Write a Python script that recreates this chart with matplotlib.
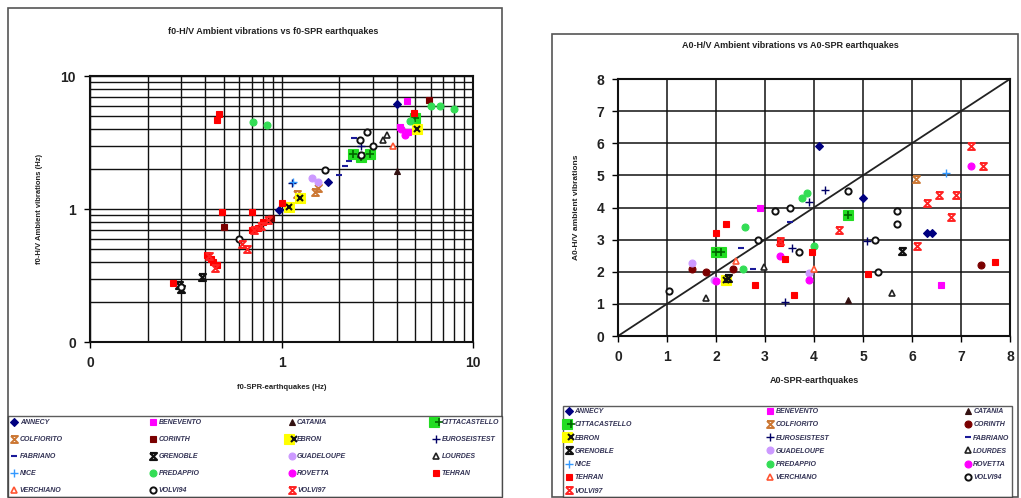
import matplotlib
matplotlib.use("Agg")
import matplotlib.pyplot as plt
from matplotlib.path import Path
from matplotlib.patches import Rectangle
from matplotlib.ticker import FixedLocator, FixedFormatter, LogLocator, NullFormatter
from matplotlib.legend_handler import HandlerTuple

plt.rcParams['font.family'] = ['Liberation Sans', 'DejaVu Sans']

# ---------------- data ----------------
sites = ["ANNECY", "BENEVENTO", "CATANIA", "CITTACASTELLO", "COLFIORITO", "CORINTH",
         "EBRON", "EUROSEISTEST", "FABRIANO", "GRENOBLE", "GUADELOUPE", "LOURDES",
         "NICE", "PREDAPPIO", "ROVETTA", "TEHRAN", "VERCHIANO", "VOLVI94", "VOLVI97"]

# f0 (Hz): SPR earthquakes (x) vs H/V ambient vibrations (y)
f0_x = {
    "ANNECY": [4.0, 1.75, 0.97],
    "BENEVENTO": [4.5, 4.15, 4.55],
    "CATANIA": [4.0],
    "CITTACASTELLO": [2.35, 2.6, 2.9, 5.0],
    "COLFIORITO": [1.2, 1.5, 1.55],
    "CORINTH": [0.5, 0.88, 5.9],
    "EBRON": [1.1, 5.1, 1.25],
    "EUROSEISTEST": [1.13, 2.6],
    "FABRIANO": [2.0, 2.15, 2.25, 2.4],
    "GRENOBLE": [0.29, 0.385, 0.3],
    "GUADELOUPE": [1.45, 1.55],
    "LOURDES": [3.55, 3.4],
    "NICE": [1.15],
    "PREDAPPIO": [0.71, 0.84, 6.0, 6.7, 8.0, 4.7],
    "ROVETTA": [4.2, 4.4],
    "TEHRAN": [0.27, 0.46, 0.47, 0.49, 0.70, 0.41, 0.44, 0.46, 0.43, 0.7, 0.75, 0.8, 4.9, 1.0],
    "VERCHIANO": [3.8],
    "VOLVI94": [0.6, 1.69, 2.57, 2.8, 3.0, 0.3, 2.6],
    "VOLVI97": [0.42, 0.45, 0.66, 0.72, 0.78, 0.85, 0.62],
}
f0_y = {
    "ANNECY": [6.2, 1.6, 0.98],
    "BENEVENTO": [6.5, 4.1, 3.8],
    "CATANIA": [1.93],
    "CITTACASTELLO": [2.6, 2.45, 2.6, 4.8],
    "COLFIORITO": [1.3, 1.35, 1.45],
    "CORINTH": [0.73, 0.85, 6.6],
    "EBRON": [1.04, 4.0, 1.2],
    "EUROSEISTEST": [1.57, 3.0],
    "FABRIANO": [1.8, 2.1, 2.3, 3.4],
    "GRENOBLE": [0.27, 0.31, 0.25],
    "GUADELOUPE": [1.7, 1.6],
    "LOURDES": [3.6, 3.3],
    "NICE": [1.6],
    "PREDAPPIO": [4.5, 4.3, 6.0, 6.0, 5.6, 4.6],
    "ROVETTA": [4.0, 3.6],
    "TEHRAN": [0.28, 4.7, 5.2, 0.95, 0.95, 0.45, 0.40, 0.38, 0.42, 0.7, 0.72, 0.8, 5.3, 1.1],
    "VERCHIANO": [3.0],
    "VOLVI94": [0.6, 1.97, 3.3, 3.8, 3.0, 0.26, 2.55],
    "VOLVI97": [0.44, 0.36, 0.5, 0.7, 0.75, 0.82, 0.55],
}

# A0: SPR earthquakes (x) vs H/V ambient vibrations (y)
a0_x = {
    "ANNECY": [4.1, 5.0, 6.3, 6.4],
    "BENEVENTO": [2.9, 6.6],
    "CATANIA": [4.7],
    "CITTACASTELLO": [4.7, 2.0, 2.1],
    "COLFIORITO": [6.08],
    "CORINTH": [7.4, 1.5, 1.8, 2.35],
    "EBRON": [2.2],
    "EUROSEISTEST": [4.22, 3.9, 5.08, 3.4, 3.55],
    "FABRIANO": [3.5, 2.5, 2.76],
    "GRENOBLE": [5.8, 2.25],
    "GUADELOUPE": [1.5, 1.95, 3.9],
    "LOURDES": [5.6, 1.8, 2.98],
    "NICE": [6.7],
    "PREDAPPIO": [3.75, 3.85, 2.6, 4.0, 2.55],
    "ROVETTA": [7.2, 3.3, 2.0, 3.9],
    "TEHRAN": [7.7, 5.1, 3.95, 3.6, 2.8, 2.0, 2.2, 3.4, 3.3],
    "VERCHIANO": [2.4, 4.0],
    "VOLVI94": [4.7, 3.5, 3.2, 5.7, 5.7, 5.3, 2.85, 1.05, 3.7, 5.25],
    "VOLVI97": [7.2, 7.45, 6.55, 6.9, 6.3, 6.8, 4.5, 6.1, 3.3],
}
a0_y = {
    "ANNECY": [5.92, 4.3, 3.2, 3.2],
    "BENEVENTO": [4.0, 1.6],
    "CATANIA": [1.12],
    "CITTACASTELLO": [3.77, 2.6, 2.6],
    "COLFIORITO": [4.88],
    "CORINTH": [2.2, 2.1, 2.0, 2.1],
    "EBRON": [1.75],
    "EUROSEISTEST": [4.53, 4.18, 2.95, 1.07, 2.75],
    "FABRIANO": [3.56, 2.73, 2.08],
    "GRENOBLE": [2.65, 1.8],
    "GUADELOUPE": [2.28, 1.75, 1.95],
    "LOURDES": [1.35, 1.17, 2.15],
    "NICE": [5.07],
    "PREDAPPIO": [4.3, 4.45, 3.4, 2.8, 2.1],
    "ROVETTA": [5.28, 2.5, 1.7, 1.75],
    "TEHRAN": [2.3, 1.92, 2.63, 1.28, 1.6, 3.2, 3.5, 2.4, 2.9],
    "VERCHIANO": [2.35, 2.1],
    "VOLVI94": [4.5, 4.0, 3.9, 3.9, 3.5, 2.0, 3.0, 1.4, 2.6, 3.0],
    "VOLVI97": [5.92, 5.28, 4.4, 4.4, 4.13, 3.7, 3.3, 2.8, 2.95],
}

log_ticks = [0.1, 1, 10]
log_tick_labels = ["0", "1", "10"]
lin_ticks = [0, 1, 2, 3, 4, 5, 6, 7, 8]

# ---------------- styles ----------------
hourglass = Path([(-1, 1), (1, 1), (-1, -1), (1, -1), (-1, 1)],
                 [Path.MOVETO, Path.LINETO, Path.LINETO, Path.LINETO, Path.LINETO])

def styles(chart):
    corinth_marker = 's' if chart == 'f0' else 'o'
    return {
        "ANNECY": [dict(marker='D', ms=4.5, mfc='#000080', mec='#000080', mew=0.8)],
        "BENEVENTO": [dict(marker='s', ms=5, mfc='#FF00FF', mec='#FF00FF', mew=0.8)],
        "CATANIA": [dict(marker='^', ms=5, mfc='#331111', mec='#331111', mew=0.8)],
        "CITTACASTELLO": [dict(marker='s', ms=7, mfc='#22DD22', mec='#22DD22', mew=0.8),
                          dict(marker='+', ms=6, mfc='none', mec='#006600', mew=1.2)],
        "COLFIORITO": [dict(marker=hourglass, ms=5, mfc='none', mec='#CC7733', mew=1.4)],
        "CORINTH": [dict(marker=corinth_marker, ms=5, mfc='#7A0000', mec='#7A0000', mew=0.8)],
        "EBRON": [dict(marker='s', ms=6.5, mfc='#FFFF00', mec='#FFFF00', mew=0.8),
                  dict(marker='x', ms=5, mfc='none', mec='#111111', mew=1.5)],
        "EUROSEISTEST": [dict(marker='+', ms=6, mfc='none', mec='#000066', mew=1.0)],
        "FABRIANO": [dict(marker='_', ms=5, mfc='none', mec='#1A1A99', mew=1.5)],
        "GRENOBLE": [dict(marker=hourglass, ms=5, mfc='none', mec='#111111', mew=1.6)],
        "GUADELOUPE": [dict(marker='o', ms=5, mfc='#CC99FF', mec='#CC99FF', mew=0.8)],
        "LOURDES": [dict(marker='^', ms=5, mfc='white', mec='#222222', mew=1.2)],
        "NICE": [dict(marker='+', ms=6, mfc='none', mec='#3399FF', mew=1.0)],
        "PREDAPPIO": [dict(marker='o', ms=5, mfc='#33DD55', mec='#33DD55', mew=0.8)],
        "ROVETTA": [dict(marker='o', ms=5, mfc='#FF00FF', mec='#FF00FF', mew=0.8)],
        "TEHRAN": [dict(marker='s', ms=5, mfc='#FF0000', mec='#FF0000', mew=0.8)],
        "VERCHIANO": [dict(marker='^', ms=5, mfc='white', mec='#FF5533', mew=1.2)],
        "VOLVI94": [dict(marker='o', ms=4.5, mfc='white', mec='#111111', mew=1.4)],
        "VOLVI97": [dict(marker=hourglass, ms=5, mfc='none', mec='#FF2222', mew=1.4)],
    }

def draw_series(ax, xs, ys, chart):
    st = styles(chart)
    handles = {}
    for s in sites:
        parts = []
        for p in st[s]:
            ln, = ax.plot(xs[s], ys[s], ls='none', zorder=3, clip_on=False, **p)
            parts.append(ln)
        handles[s] = tuple(parts) if len(parts) > 1 else parts[0]
    return handles

def row_major(handles, ncol):
    n = len(sites)
    nrows = -(-n // ncol)
    grid = [sites[i:i + ncol] for i in range(0, n, ncol)]
    order = []
    for c in range(ncol):
        for r in range(nrows):
            if c < len(grid[r]):
                order.append(grid[r][c])
    return [handles[s] for s in order], order

W, H = 1021, 498
fig = plt.figure(figsize=(W / 100, H / 100), dpi=100)
fig.patch.set_facecolor('white')

def fx(px):
    return px / W

def fy(py):
    return 1 - py / H

# panel frames
fig.patches.append(Rectangle((fx(8), fy(497)), fx(502) - fx(8), fy(8) - fy(497),
                             transform=fig.transFigure, fill=False, ec='#555555', lw=1.2))
fig.patches.append(Rectangle((fx(552), fy(497)), fx(1018) - fx(552), fy(34) - fy(497),
                             transform=fig.transFigure, fill=False, ec='#555555', lw=1.2))

bold = dict(fontweight='bold', color='#222222')

# ---------------- left chart ----------------
ax1 = fig.add_axes([fx(90), fy(342), fx(473) - fx(90), fy(76) - fy(342)])
ax1.set_xscale('log')
ax1.set_yscale('log')
ax1.set_xlim(0.1, 10)
ax1.set_ylim(0.1, 10)
ax1.xaxis.set_major_locator(FixedLocator(log_ticks))
ax1.xaxis.set_major_formatter(FixedFormatter(log_tick_labels))
ax1.yaxis.set_major_locator(FixedLocator(log_ticks))
ax1.yaxis.set_major_formatter(FixedFormatter(log_tick_labels))
for a in (ax1.xaxis, ax1.yaxis):
    a.set_minor_locator(LogLocator(base=10, subs=range(2, 10)))
    a.set_minor_formatter(NullFormatter())
ax1.grid(True, which='both', color='#111111', lw=1.0)
ax1.set_axisbelow(True)
ax1.tick_params(which='minor', length=0)
ax1.tick_params(which='major', length=4, width=1, direction='out', labelsize=10, pad=6)
for lab in ax1.get_xticklabels() + ax1.get_yticklabels():
    lab.set_fontweight('bold')
    lab.set_color('#222222')
for sp in ax1.spines.values():
    sp.set_linewidth(1.5)
    sp.set_color('#111111')
h1 = draw_series(ax1, f0_x, f0_y, 'f0')
ax1.set_xlabel('f0-SPR-earthquakes (Hz)', fontsize=5.5, labelpad=10, **bold)
ax1.set_ylabel('f0-H/V Ambient vibrations (Hz)', fontsize=5.5, labelpad=13, **bold)
fig.text(fx(273), fy(31), 'f0-H/V Ambient vibrations vs f0-SPR earthquakes',
         ha='center', va='center', fontsize=6.5, **bold)

hs, labs = row_major(h1, 4)
fig.legend(hs, labs, ncol=4, loc='lower left',
           bbox_to_anchor=(fx(8), fy(497), fx(502) - fx(8), fy(413) - fy(497)),
           mode='expand', frameon=True, fancybox=False, edgecolor='#333333',
           prop=dict(size=5, weight='bold', style='italic'), labelcolor='#333355',
           handlelength=1.0, handletextpad=0.3, labelspacing=1.45,
           borderpad=0.4, borderaxespad=0, columnspacing=1.0,
           handler_map={tuple: HandlerTuple(ndivide=None)})

# ---------------- right chart ----------------
ax2 = fig.add_axes([fx(618), fy(336), fx(1010) - fx(618), fy(79) - fy(336)])
ax2.set_xlim(0, 8)
ax2.set_ylim(0, 8)
ax2.xaxis.set_major_locator(FixedLocator(lin_ticks))
ax2.yaxis.set_major_locator(FixedLocator(lin_ticks))
ax2.grid(True, color='#111111', lw=1.1)
ax2.set_axisbelow(True)
ax2.tick_params(length=4, width=1, direction='out', labelsize=10, pad=6)
for lab in ax2.get_xticklabels() + ax2.get_yticklabels():
    lab.set_fontweight('bold')
    lab.set_color('#222222')
for sp in ax2.spines.values():
    sp.set_linewidth(1.5)
    sp.set_color('#111111')
ax2.plot([0, 8], [0, 8], color='#222222', lw=1.3, zorder=2)
h2 = draw_series(ax2, a0_x, a0_y, 'a0')
ax2.set_xlabel('A0-SPR-earthquakes', fontsize=6.5, labelpad=9, **bold)
ax2.set_ylabel('A0-H/V ambient vibrations', fontsize=6, labelpad=12, **bold)
fig.text(fx(790), fy(45), 'A0-H/V Ambient vibrations vs A0-SPR earthquakes',
         ha='center', va='center', fontsize=6.5, **bold)

hs2, labs2 = row_major(h2, 3)
fig.legend(hs2, labs2, ncol=3, loc='lower left',
           bbox_to_anchor=(fx(563), fy(497), fx(1012) - fx(563), fy(403) - fy(497)),
           mode='expand', frameon=True, fancybox=False, edgecolor='#333333',
           prop=dict(size=5, weight='bold', style='italic'), labelcolor='#333355',
           handlelength=1.0, handletextpad=0.3, labelspacing=0.9,
           borderpad=0.35, borderaxespad=0, columnspacing=1.0,
           handler_map={tuple: HandlerTuple(ndivide=None)})

fig.savefig('out.png', dpi=100, facecolor='white')
